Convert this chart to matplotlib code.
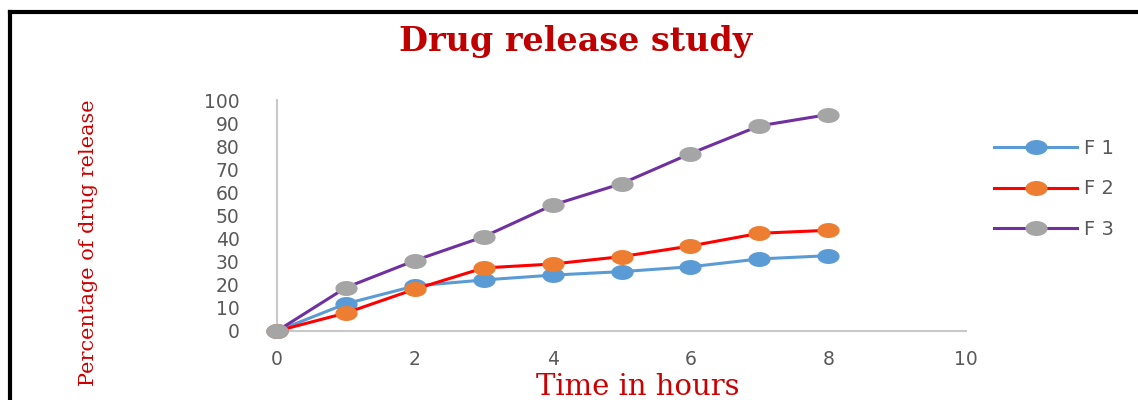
import matplotlib
matplotlib.use("Agg")
import matplotlib.pyplot as plt
from matplotlib.path import Path
from matplotlib.markers import MarkerStyle
from matplotlib.lines import Line2D
import numpy as np

# Data
time_hours = [0, 1, 2, 3, 4, 5, 6, 7, 8]
f1 = [0, 11.8, 19.5, 22.1, 24.2, 25.7, 27.8, 31.2, 32.6]
f2 = [0, 7.8, 18.1, 27.3, 29.0, 32.2, 36.8, 42.3, 43.6]
f3 = [0, 18.8, 30.5, 40.8, 54.5, 63.8, 76.8, 88.8, 93.7]
series_names = ["F 1", "F 2", "F 3"]
x_ticks = [0, 2, 4, 6, 8, 10]
y_ticks = [0, 10, 20, 30, 40, 50, 60, 70, 80, 90, 100]

line_colors = ["#5B9BD5", "#FF0000", "#7030A0"]
marker_colors = ["#5B9BD5", "#ED7D31", "#A5A5A5"]

# elliptical marker (wider than tall)
t = np.linspace(0, 2 * np.pi, 60)
ell = Path(np.column_stack([np.cos(t), 0.65 * np.sin(t)]), closed=True)
ell_marker = MarkerStyle(ell)

fig = plt.figure(figsize=(11.38, 4.0), dpi=100)
ax = fig.add_axes([277 / 1138, 1 - 331 / 400, (966 - 277) / 1138, (331 - 100) / 400])

for ys, lc, mc, name in zip([f1, f2, f3], line_colors, marker_colors, series_names):
    ax.plot(time_hours, ys, color=lc, lw=2.2, marker=ell_marker, markersize=15,
            markerfacecolor=mc, markeredgecolor=mc, label=name, clip_on=False, zorder=3)

ax.set_xlim(0, 10)
ax.set_ylim(0, 100)
ax.set_xticks(x_ticks)
ax.set_yticks(y_ticks)
ax.tick_params(axis="both", length=0, colors="#595959", labelsize=13.5)
ax.tick_params(axis="y", pad=27)
ax.tick_params(axis="x", pad=14)
for lab in ax.get_xticklabels() + ax.get_yticklabels():
    lab.set_fontfamily("DejaVu Sans")
for s in ["top", "right"]:
    ax.spines[s].set_visible(False)
for s in ["left", "bottom"]:
    ax.spines[s].set_color("#C8C8C8")
    ax.spines[s].set_linewidth(1.5)

fig.text(576 / 1138, 1 - 41 / 400, "Drug release study", color="#C00000",
         fontsize=24, fontweight="bold", family="DejaVu Serif",
         ha="center", va="center")
fig.text(89 / 1138, 1 - 243 / 400, "Percentage of drug release", color="#CC0000",
         fontsize=15, family="DejaVu Serif", rotation=90,
         ha="center", va="center")
fig.text(638 / 1138, 1 - 387 / 400, "Time in hours", color="#CC0000",
         fontsize=21, family="DejaVu Serif", ha="center", va="center")

leg = ax.legend(loc="center left", bbox_to_anchor=(988 / 1138, 1 - 189 / 400),
                bbox_transform=fig.transFigure, frameon=False, numpoints=1,
                handlelength=4.3, handletextpad=0.35, labelspacing=1.1,
                borderaxespad=0, borderpad=0.3,
                prop={"family": "DejaVu Sans", "size": 14}, labelcolor="#595959")

# black border (top and left)
fig.add_artist(Line2D([10 / 1138, 10 / 1138], [0, 1 - 12 / 400], color="black", lw=3,
                      transform=fig.transFigure, solid_capstyle="projecting"))
fig.add_artist(Line2D([10 / 1138, 1], [1 - 12 / 400, 1 - 12 / 400], color="black", lw=3,
                      transform=fig.transFigure, solid_capstyle="projecting"))

fig.savefig("out.png", dpi=100, facecolor="white")
